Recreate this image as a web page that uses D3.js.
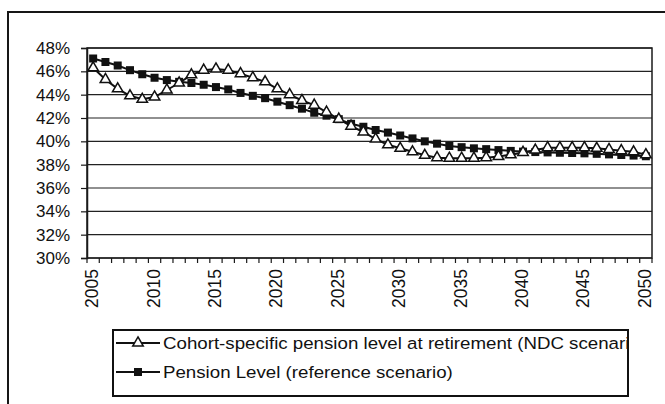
<!DOCTYPE html>
<html>
<head>
<meta charset="utf-8">
<script src="https://cdn.jsdelivr.net/npm/d3@7/dist/d3.min.js"></script>
<style>
  html, body { margin: 0; padding: 0; background: #fff; }
  svg { display: block; font-family: "Liberation Sans", Arial, sans-serif; }
</style>
</head>
<body>
<svg id="chart" width="665" height="404"></svg>
<script>
const years = d3.range(2005, 2051);
const yearLabels = [2005, 2010, 2015, 2020, 2025, 2030, 2035, 2040, 2045, 2050];
const yTicks = [0.30, 0.32, 0.34, 0.36, 0.38, 0.40, 0.42, 0.44, 0.46, 0.48];
const cohortName = "Cohort-specific pension level at retirement (NDC scenario)";
const cohortValues = [
  46.3, 45.3, 44.5, 43.9, 43.6, 43.8, 44.4, 45.0, 45.7, 46.1,
  46.2, 46.1, 45.8, 45.45, 45.1, 44.5, 44.0, 43.5, 43.1, 42.5,
  41.9, 41.3, 40.8, 40.2, 39.7, 39.4, 39.1, 38.8, 38.6, 38.55,
  38.55, 38.55, 38.6, 38.7, 38.85, 39.05, 39.25, 39.45, 39.45, 39.45,
  39.45, 39.4, 39.3, 39.2, 39.1, 38.85
];
const referenceName = "Pension Level (reference scenario)";
const referenceValues = [
  47.1, 46.8, 46.5, 46.1, 45.75, 45.45, 45.25, 45.1, 45.0, 44.85,
  44.65, 44.45, 44.15, 43.9, 43.7, 43.4, 43.1, 42.8, 42.45, 42.2,
  41.9, 41.5, 41.25, 40.97, 40.75, 40.5, 40.25, 40.0, 39.8, 39.6,
  39.5, 39.4, 39.33, 39.25, 39.18, 39.12, 39.08, 39.05, 39.02, 39.0,
  38.97, 38.93, 38.88, 38.83, 38.78, 38.72
];

const svg = d3.select("#chart");
const L = 87, R = 652, T = 48, B = 258;

// outer chart frame
svg.append("rect").attr("x", 8).attr("y", 12).attr("width", 700).attr("height", 450)
  .attr("fill", "#fff").attr("stroke", "#161616").attr("stroke-width", 2);

const x = d3.scaleBand().domain(years).range([L, R]).padding(0);
const y = d3.scaleLinear().domain([0.30, 0.48]).range([B, T]);

// gridlines
svg.append("g").selectAll("line").data(yTicks).join("line")
  .attr("x1", L).attr("x2", R)
  .attr("y1", d => y(d)).attr("y2", d => y(d))
  .attr("stroke", "#222").attr("stroke-width", 1.2);

// plot border
svg.append("rect").attr("x", L).attr("y", T).attr("width", R - L).attr("height", B - T)
  .attr("fill", "none").attr("stroke", "#1a1a1a").attr("stroke-width", 1.5);

// y axis
const yAxis = svg.append("g").attr("transform", `translate(${L},0)`)
  .call(d3.axisLeft(y).tickValues(yTicks).tickSize(6).tickPadding(11).tickFormat(d3.format(".0%")));
yAxis.select(".domain").attr("stroke", "#1a1a1a").attr("stroke-width", 1.5);
yAxis.selectAll(".tick line").attr("stroke", "#1a1a1a").attr("stroke-width", 1.2);
yAxis.selectAll(".tick text").attr("font-size", 17).attr("fill", "#111")
  .attr("font-family", "'Liberation Sans', Arial, sans-serif");

// x axis: ticks between categories
const boundaries = years.map(d => x(d)).concat([R]);
svg.append("g").selectAll("line").data(boundaries).join("line")
  .attr("x1", d => d).attr("x2", d => d)
  .attr("y1", B).attr("y2", B + 5)
  .attr("stroke", "#1a1a1a").attr("stroke-width", 1.2);

svg.append("g").selectAll("text").data(yearLabels).join("text")
  .attr("transform", d => `translate(${x(d) + x.bandwidth() / 2 + 5},${B + 11}) rotate(-90)`)
  .attr("text-anchor", "end")
  .attr("font-size", 17.5).attr("fill", "#111")
  .text(d => d);

// series
const line = d3.line().x((d, i) => x(years[i]) + x.bandwidth() / 2).y(d => y(d / 100));

svg.append("path").datum(referenceValues).attr("d", line)
  .attr("fill", "none").attr("stroke", "#111").attr("stroke-width", 2);
svg.append("path").datum(cohortValues).attr("d", line)
  .attr("fill", "none").attr("stroke", "#111").attr("stroke-width", 2);

const sq = 8;
svg.append("g").selectAll("rect").data(referenceValues).join("rect")
  .attr("x", (d, i) => x(years[i]) + x.bandwidth() / 2 - sq / 2)
  .attr("y", d => y(d / 100) - sq / 2)
  .attr("width", sq).attr("height", sq).attr("fill", "#111");

const tri = d3.symbol().type(d3.symbolTriangle).size(48);
svg.append("g").selectAll("path").data(cohortValues).join("path")
  .attr("transform", (d, i) => `translate(${x(years[i]) + x.bandwidth() / 2},${y(d / 100)})`)
  .attr("d", tri).attr("fill", "#fff").attr("stroke", "#111").attr("stroke-width", 1.5);

// legend
const lg = { x: 113, y: 330, w: 515, h: 66 };
svg.append("clipPath").attr("id", "lgclip").append("rect")
  .attr("x", lg.x).attr("y", lg.y).attr("width", lg.w).attr("height", lg.h);
svg.append("rect").attr("x", lg.x).attr("y", lg.y).attr("width", lg.w).attr("height", lg.h)
  .attr("fill", "#fff").attr("stroke", "#111").attr("stroke-width", 2);

const entries = [
  { name: cohortName, type: "tri", cy: 343 },
  { name: referenceName, type: "sq", cy: 372 }
];
const lgG = svg.append("g").attr("clip-path", "url(#lgclip)");
entries.forEach(e => {
  lgG.append("line").attr("x1", 116).attr("x2", 160).attr("y1", e.cy).attr("y2", e.cy)
    .attr("stroke", "#111").attr("stroke-width", 2);
  if (e.type === "tri") {
    lgG.append("path").attr("transform", `translate(138,${e.cy})`).attr("d", tri)
      .attr("fill", "#fff").attr("stroke", "#111").attr("stroke-width", 1.5);
  } else {
    lgG.append("rect").attr("x", 138 - sq / 2).attr("y", e.cy - sq / 2)
      .attr("width", sq).attr("height", sq).attr("fill", "#111");
  }
  lgG.append("text").attr("transform", `translate(163,${e.cy}) scale(1.1,1)`)
    .attr("dy", "0.36em")
    .attr("font-size", 17).attr("fill", "#111").text(e.name);
});
</script>
</body>
</html>
